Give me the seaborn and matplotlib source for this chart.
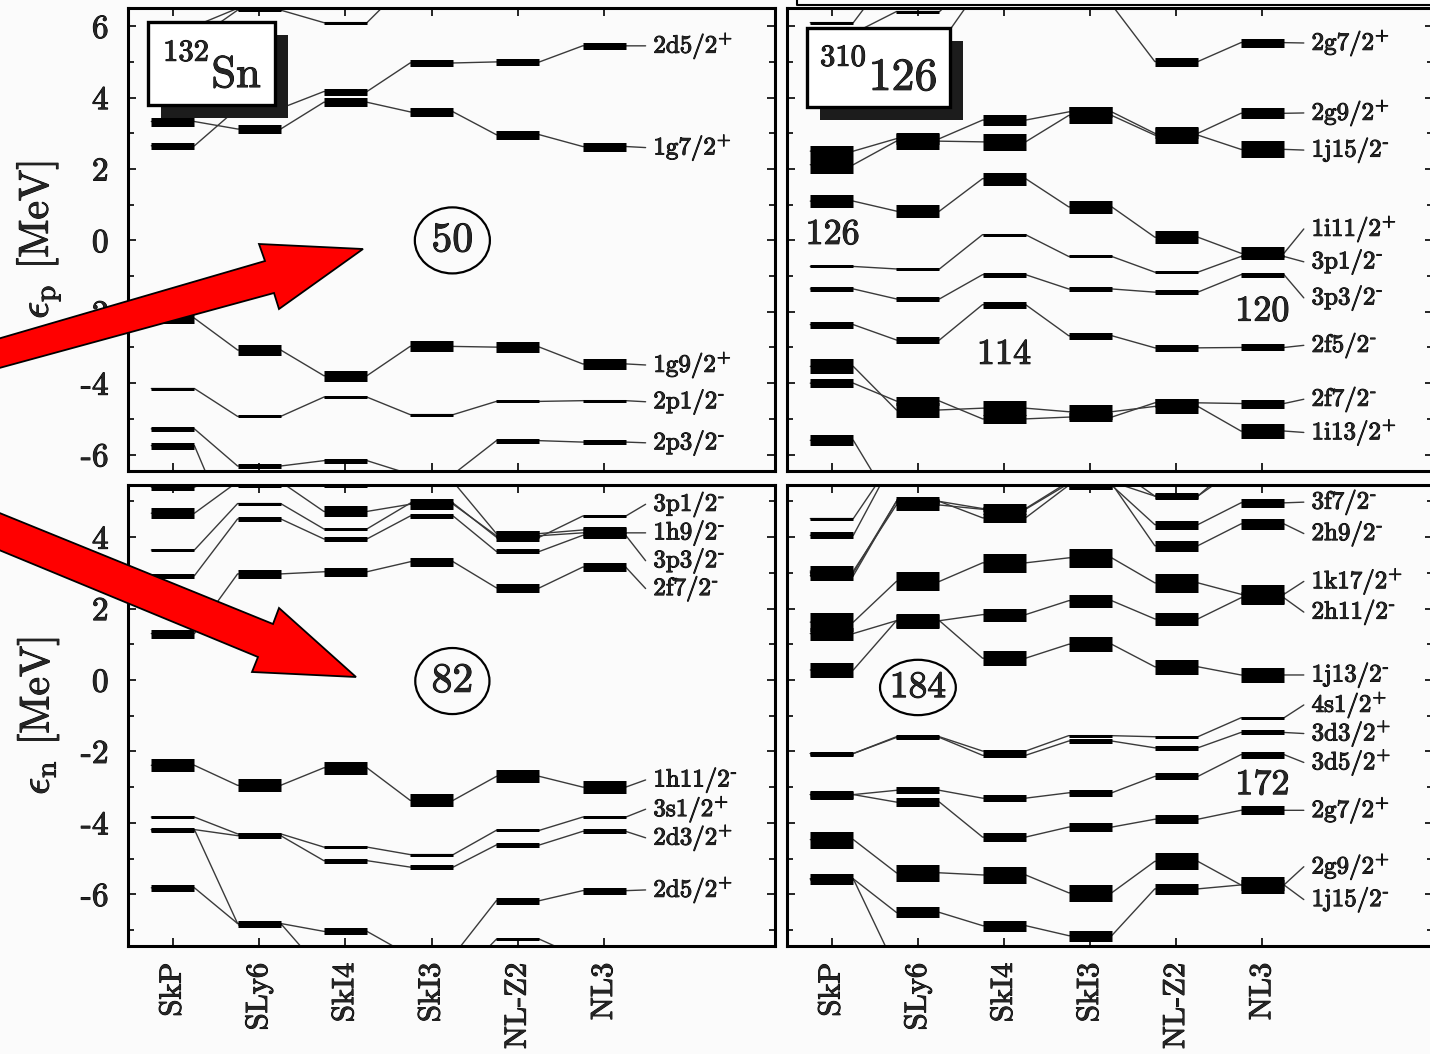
import numpy as np
import pandas as pd
import matplotlib
matplotlib.use("Agg")
import matplotlib.pyplot as plt
import matplotlib.patheffects as pe
import seaborn as sns
from matplotlib.patches import Rectangle, Ellipse, Polygon
from matplotlib.lines import Line2D
from matplotlib.ticker import MultipleLocator

# ---------------- data ----------------
forces = ["SkP", "SLy6", "SkI4", "SkI3", "NL-Z2", "NL3"]

# 132Sn protons
sp_2d52 = [2.65, 3.70, 4.17, 4.97, 5.00, 5.45]
sp_1g72 = [3.33, 3.12, 3.87, 3.60, 2.96, 2.63]
sp_1g92 = [-2.18, -3.07, -3.79, -2.97, -2.99, -3.46]
sp_2p12 = [-4.15, -4.93, -4.39, -4.88, -4.51, -4.49]
sp_2p32 = [-5.28, -6.32, -6.17, -6.55, -5.61, -5.65]
sp_1f52 = [-5.75, -8.60, -8.60, -8.60, -8.00, -8.00]
sp_3s12 = [5.60, 6.45, 6.10, 7.30, 7.60, 7.90]
sp_2d32 = [6.00, 6.50, 7.20, 7.50, 7.80, 8.00]

# 132Sn neutrons
sn_2f72 = [1.30, 2.97, 3.03, 3.31, 2.58, 3.16]
sn_3p32 = [2.92, 4.51, 3.95, 4.59, 3.60, 4.05]
sn_1h92 = [4.67, 5.55, 4.72, 4.92, 4.04, 4.12]
sn_3p12 = [3.64, 4.94, 4.23, 4.95, 4.00, 4.59]
sn_2f52 = [5.40, 5.90, 5.50, 5.55, 4.10, 4.20]
sn_1h112 = [-2.39, -2.95, -2.46, -3.37, -2.70, -3.00]
sn_3s12 = [-3.84, -4.31, -4.68, -4.89, -4.21, -3.84]
sn_2d32 = [-4.19, -4.36, -5.06, -5.24, -4.62, -4.24]
sn_2d52 = [-5.82, -6.82, -7.04, -7.72, -6.18, -5.90]
sn_1g72 = [-4.19, -6.82, -8.20, -8.50, -7.26, -7.80]

# 310-126 protons
up_2g72 = [7.30, 7.70, 7.50, 6.60, 5.01, 5.54]
up_2g92 = [2.50, 2.85, 3.37, 3.60, 3.00, 3.56]
up_1j152 = [2.12, 2.78, 2.76, 3.50, 2.95, 2.55]
up_1i112 = [1.10, 0.82, 1.73, 0.94, 0.09, -0.36]
up_3p12 = [-0.73, -0.80, 0.16, -0.45, -0.89, -0.45]
up_3p32 = [-1.36, -1.64, -0.96, -1.36, -1.45, -0.96]
up_2f52 = [-2.36, -2.79, -1.80, -2.67, -3.01, -3.00]
up_2f72 = [-4.00, -4.50, -5.00, -4.95, -4.55, -4.57]
up_1i132 = [-3.53, -4.75, -4.70, -4.80, -4.65, -5.34]
up_1h92 = [-5.60, -7.60, -7.80, -8.00, -8.00, -8.00]
up_3d32 = [6.10, 7.70, 7.60, 7.60, 7.60, 7.60]
up_3s12 = [5.80, 6.41, 7.50, 7.50, 7.50, 7.50]
up_2d52 = [5.00, 5.48, 7.20, 7.00, 7.00, 7.00]

# 310-126 neutrons
un_3f72 = [2.92, 5.00, 4.54, 5.45, 4.35, 4.96]
un_2h92 = [3.05, 4.90, 4.78, 5.50, 3.76, 4.37]
un_4p32 = [3.00, 5.00, 4.80, 5.55, 5.15, 6.00]
un_3f52 = [4.05, 6.30, 6.00, 6.00, 5.15, 6.20]
un_4p12 = [4.52, 6.30, 6.20, 6.20, 6.20, 6.20]
un_1k172 = [1.62, 2.76, 3.28, 3.42, 2.72, 2.40]
un_2h112 = [1.30, 1.66, 1.83, 2.22, 1.71, 2.30]
un_1j132 = [0.28, 1.66, 0.61, 1.00, 0.37, 0.14]
un_4s12 = [-2.06, -1.59, -1.99, -1.56, -1.59, -1.06]
un_3d32 = [-2.06, -1.61, -2.11, -1.71, -1.90, -1.47]
un_3d52 = [-3.21, -3.09, -3.31, -3.16, -2.70, -2.09]
un_2g72 = [-3.21, -3.42, -4.40, -4.12, -3.90, -3.65]
un_1j152 = [-4.47, -5.40, -5.46, -5.96, -5.08, -5.74]
un_2g92 = [-5.57, -6.51, -6.88, -7.16, -5.85, -5.74]
un_1i112 = [-5.57, -8.10, -8.50, -8.50, -8.50, -8.50]

# (label, parity, degeneracy, energies, label position)
panel_sn_p = [
    ("2d5/2", "+", 6, sp_2d52, 5.45), ("1g7/2", "+", 8, sp_1g72, 2.60),
    ("1g9/2", "+", 10, sp_1g92, -3.49), ("2p1/2", "-", 2, sp_2p12, -4.52),
    ("2p3/2", "-", 4, sp_2p32, -5.67), (None, None, 6, sp_1f52, None),
    (None, None, 2, sp_3s12, None), (None, None, 4, sp_2d32, None),
]
panel_sn_n = [
    ("3p1/2", "-", 2, sn_3p12, 4.92), ("1h9/2", "-", 10, sn_1h92, 4.12),
    ("3p3/2", "-", 4, sn_3p32, 3.34), ("2f7/2", "-", 8, sn_2f72, 2.56),
    (None, None, 6, sn_2f52, None),
    ("1h11/2", "-", 12, sn_1h112, -2.80), ("3s1/2", "+", 2, sn_3s12, -3.62),
    ("2d3/2", "+", 4, sn_2d32, -4.42), ("2d5/2", "+", 6, sn_2d52, -5.88),
    (None, None, 2, sn_1g72, None),
]
panel_u_p = [
    ("2g7/2", "+", 8, up_2g72, 5.53), ("2g9/2", "+", 10, up_2g92, 3.57),
    ("1j15/2", "-", 16, up_1j152, 2.53), ("1i11/2", "+", 12, up_1i112, 0.32),
    ("3p1/2", "-", 2, up_3p12, -0.60), ("3p3/2", "-", 4, up_3p32, -1.61),
    ("2f5/2", "-", 6, up_2f52, -2.94), ("2f7/2", "-", 8, up_2f72, -4.45),
    ("1i13/2", "+", 14, up_1i132, -5.38), (None, None, 10, up_1h92, None),
    (None, None, 2, up_3d32, None), (None, None, 2, up_3s12, None),
    (None, None, 2, up_2d52, None),
]
panel_u_n = [
    ("3f7/2", "-", 8, un_3f72, 4.98), ("2h9/2", "-", 10, un_2h92, 4.10),
    (None, None, 4, un_4p32, None), (None, None, 6, un_3f52, None),
    (None, None, 2, un_4p12, None),
    ("1k17/2", "+", 18, un_1k172, 2.76), ("2h11/2", "-", 12, un_2h112, 1.90),
    ("1j13/2", "-", 14, un_1j132, 0.14), ("4s1/2", "+", 2, un_4s12, -0.70),
    ("3d3/2", "+", 4, un_3d32, -1.50), ("3d5/2", "+", 6, un_3d52, -2.31),
    ("2g7/2", "+", 8, un_2g72, -3.65), ("2g9/2", "+", 10, un_2g92, -5.23),
    ("1j15/2", "-", 16, un_1j152, -6.15), (None, None, 2, un_1i112, None),
]

# ---------------- style ----------------
sns.set_theme(style="ticks")
plt.rcParams["font.family"] = ["cmr10", "DejaVu Serif"]
plt.rcParams["mathtext.fontset"] = "cm"
plt.rcParams["axes.unicode_minus"] = False
plt.rcParams["axes.formatter.use_mathtext"] = True

BG = "#fbfbfb"
W, H = 1430, 1054
fig = plt.figure(figsize=(W / 100, H / 100), dpi=100, facecolor=BG)
BOLD = [pe.withStroke(linewidth=0.7, foreground="black")]

def fx(x):
    return x / W

def fy(y):
    return 1 - y / H

HW = 0.25
LAB_END = 5.48
LAB_TX = 5.57
PX2PT = 0.72

def parity(p):
    return r"$^{+}$" if p == "+" else r"$^{\text{-}}$"

def draw_panel(ax, levels, ylim, yticks, show_ylabels, show_xlabels):
    rows = []
    for k, (name, par, deg, E, labE) in enumerate(levels):
        o = 0
        for i, e in enumerate(E):
            rows.append(dict(uid=k, o=o, x=i - HW, E=e)); o += 1
            rows.append(dict(uid=k, o=o, x=i + HW, E=e)); o += 1
        if labE is not None:
            rows.append(dict(uid=k, o=o, x=LAB_END, E=labE))
    df = pd.DataFrame(rows)
    sns.lineplot(data=df, x="x", y="E", units="uid", estimator=None, sort=False,
                 color="#3a3a3a", lw=1.0, ax=ax, legend=False, zorder=2)
    for name, par, deg, E, labE in levels:
        xs = np.arange(len(E))
        ax.hlines(E, xs - HW, xs + HW, colors="black",
                  linewidth=(deg + 1) * PX2PT, capstyle="butt", zorder=3)
        if name is not None:
            ax.text(LAB_TX, labE, name + parity(par), fontsize=18,
                    ha="left", va="center", zorder=4, path_effects=BOLD)
    ax.set_xlim(-0.52, 6.98)
    ax.set_ylim(*ylim)
    ax.set_facecolor(BG)
    ax.set_xlabel("")
    ax.set_ylabel("")
    ax.set_xticks(range(len(forces)))
    if show_xlabels:
        ax.set_xticklabels(forces, rotation=90, fontsize=22, va="top")
    else:
        ax.set_xticklabels([])
    ax.set_yticks(yticks)
    if show_ylabels:
        ax.set_yticklabels([str(t) for t in yticks], fontsize=24)
    else:
        ax.set_yticklabels([])
    for t in ax.get_xticklabels() + ax.get_yticklabels():
        t.set_path_effects(BOLD)
    ax.yaxis.set_minor_locator(MultipleLocator(1))
    ax.tick_params(axis="both", which="both", direction="in", top=True, right=True,
                   width=1.2, color="black")
    ax.tick_params(axis="both", which="major", length=6)
    ax.tick_params(axis="both", which="minor", length=4)
    ax.tick_params(axis="x", pad=12)
    ax.tick_params(axis="y", pad=14)
    for s in ax.spines.values():
        s.set_linewidth(2.2)
        s.set_color("black")

ax_tl = fig.add_axes([fx(128), fy(471), 647 / W, 463 / H])
ax_bl = fig.add_axes([fx(128), fy(946), 647 / W, 461 / H])
ax_tr = fig.add_axes([fx(787), fy(471), 646 / W, 463 / H])
ax_br = fig.add_axes([fx(787), fy(946), 646 / W, 461 / H])

ylim_top = (-6.46, 6.51)
ylim_bot = (-7.45, 5.46)
draw_panel(ax_tl, panel_sn_p, ylim_top, [-6, -4, -2, 0, 2, 4, 6], True, False)
draw_panel(ax_bl, panel_sn_n, ylim_bot, [-6, -4, -2, 0, 2, 4], True, True)
draw_panel(ax_tr, panel_u_p, ylim_top, [-6, -4, -2, 0, 2, 4, 6], False, False)
draw_panel(ax_br, panel_u_n, ylim_bot, [-6, -4, -2, 0, 2, 4], False, True)

# magic numbers
for ax, xc, yc, w, h, txt, fs in [(ax_tl, 3.24, 0.0, 0.87, 1.85, "50", 30),
                                  (ax_bl, 3.24, -0.03, 0.86, 1.85, "82", 30),
                                  (ax_br, 1.0, -0.21, 0.88, 1.55, "184", 27)]:
    ax.add_patch(Ellipse((xc, yc), w, h, fill=False, ec="black", lw=1.6, zorder=5))
    ax.text(xc, yc, txt, fontsize=fs, ha="center", va="center", zorder=6,
            path_effects=BOLD)

for ax, xc, yc, txt in [(ax_tr, 0.01, 0.15, "126"), (ax_tr, 2.0, -3.21, "114"),
                        (ax_tr, 5.0, -2.0, "120"), (ax_br, 5.0, -2.95, "172")]:
    ax.text(xc, yc, txt, fontsize=26, ha="center", va="center", zorder=6,
            path_effects=BOLD)

# nucleus boxes with shadow
def nucleus_box(x0, y0, x1, y1, sup, main, sup_xy, main_xy, fs_sup, fs_main):
    sh = Rectangle((fx(x0 + 13), fy(y1 + 13)), (x1 - x0) / W, (y1 - y0) / H,
                   transform=fig.transFigure, fc="#1c1c1c", ec="none", zorder=10)
    bx = Rectangle((fx(x0), fy(y1)), (x1 - x0) / W, (y1 - y0) / H,
                   transform=fig.transFigure, fc="white", ec="black", lw=2.4, zorder=11)
    fig.add_artist(sh)
    fig.add_artist(bx)
    fig.text(fx(sup_xy[0]), fy(sup_xy[1]), sup, fontsize=fs_sup, ha="center",
             va="center", zorder=12, path_effects=BOLD)
    fig.text(fx(main_xy[0]), fy(main_xy[1]), main, fontsize=fs_main, ha="center",
             va="center", zorder=12, path_effects=BOLD)

nucleus_box(148, 22, 275, 105, "132", "Sn", (186, 53), (236, 76), 22, 32)
nucleus_box(807, 28, 950, 107, "310", "126", (843, 58), (903, 78), 22, 33)

# y labels
fig.text(fx(38), fy(240), r"$\epsilon_{\mathrm{p}}$ [MeV]", fontsize=30,
         rotation=90, ha="center", va="center", path_effects=BOLD)
fig.text(fx(38), fy(716), r"$\epsilon_{\mathrm{n}}$ [MeV]", fontsize=30,
         rotation=90, ha="center", va="center", path_effects=BOLD)

# frame fragment at top right
fig.add_artist(Line2D([fx(797), fx(797), fx(1430)], [fy(0), fy(5), fy(5)],
                      transform=fig.transFigure, color="black", lw=1.5, zorder=15))

# red arrows
arrow1 = [(-30, 347), (265, 261), (259, 244), (363, 249), (279, 309), (274, 293), (-30, 376)]
arrow2 = [(-30, 501), (273, 624), (279, 608), (356, 677), (252, 672), (258, 657), (-30, 538)]
for pts in (arrow1, arrow2):
    fig.add_artist(Polygon([(fx(a), fy(b)) for a, b in pts], closed=True,
                           transform=fig.transFigure, fc="#ff0000", ec="black",
                           lw=1.3, zorder=20))

fig.savefig("out.png", dpi=100, facecolor=BG)
